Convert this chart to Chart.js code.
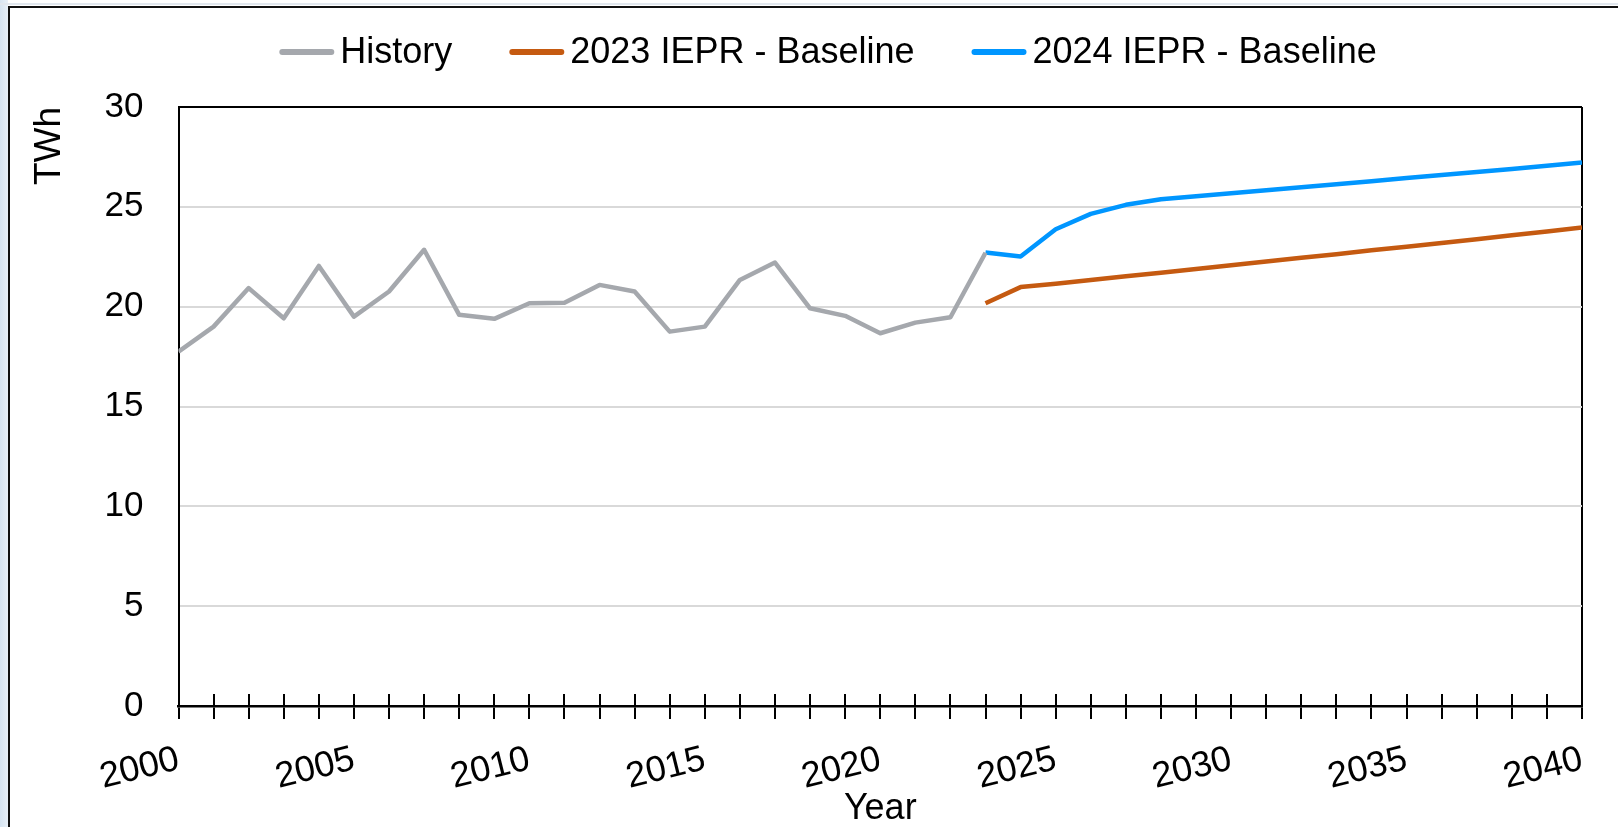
<!DOCTYPE html>
<html><head><meta charset="utf-8">
<script src="https://cdn.jsdelivr.net/npm/chart.js@4/dist/chart.umd.min.js"></script>
<style>
html,body{margin:0;padding:0;background:#fff;}
#wrap{position:relative;width:1618px;height:827px;overflow:hidden;background:#fff;}
#strip{position:absolute;left:0;top:0;width:8px;height:827px;background:linear-gradient(to right,#d6e4f1,#e8f0f8);}
#topline{position:absolute;left:0;top:3px;width:1618px;height:2px;background:#e1e7ee;}
#frame{position:absolute;left:8px;top:6px;width:1700px;height:1000px;border-left:2px solid #111;border-top:2px solid #111;box-sizing:border-box;background:#fff;}
canvas{position:absolute;left:0;top:0;}
</style></head><body>
<div id="wrap"><div id="strip"></div><div id="topline"></div><div id="frame"></div><canvas id="c" width="1618" height="827"></canvas></div>
<script>
// ---- data ----
const historyYears = [2000,2001,2002,2003,2004,2005,2006,2007,2008,2009,2010,2011,2012,2013,2014,2015,2016,2017,2018,2019,2020,2021,2022,2023];
const historyValues = [17.75,19.0,20.93,19.42,22.04,19.5,20.76,22.85,19.59,19.39,20.17,20.2,21.09,20.76,18.75,19.0,21.34,22.21,19.92,19.54,18.67,19.2,19.47,22.7];
const forecastYears = [2023,2024,2025,2026,2027,2028,2029,2030,2031,2032,2033,2034,2035,2036,2037,2038,2039,2040];
const iepr2023Values = [20.17,20.98,21.15,21.33,21.52,21.7,21.89,22.07,22.26,22.45,22.63,22.82,23.0,23.19,23.38,23.58,23.77,23.96];
const iepr2024Values = [22.71,22.51,23.88,24.65,25.1,25.38,25.53,25.68,25.83,25.98,26.13,26.28,26.44,26.6,26.75,26.9,27.06,27.22];
const seriesLabels = ['History','2023 IEPR - Baseline','2024 IEPR - Baseline'];
const yTicks = [0,5,10,15,20,25,30];
const xLabelStep = 5;

const FONT = '"Liberation Sans", Arial, Helvetica, sans-serif';
const toPts = (xs, ys) => xs.map((x,i)=>({x, y: ys[i]}));

const legendPlugin = {
  id: 'customLegend',
  afterDraw(chart){
    const ctx = chart.ctx;
    ctx.save();
    ctx.font = '36px ' + FONT;
    const items = chart.data.datasets.map(d=>({label:d.label, color:d.borderColor, w:ctx.measureText(d.label).width}));
    const lineLen = 55, gapLine = 6, gapItem = 57, centerX = 828, lineY = 52, textY = 63;
    const total = items.reduce((s,it)=>s+lineLen+gapLine+it.w,0) + gapItem*(items.length-1);
    let x = centerX - total/2;
    items.forEach(it=>{
      ctx.strokeStyle = it.color; ctx.lineWidth = 6; ctx.lineCap = 'round';
      ctx.beginPath(); ctx.moveTo(x+3, lineY); ctx.lineTo(x+lineLen-3, lineY); ctx.stroke();
      ctx.fillStyle = '#000'; ctx.textAlign='left'; ctx.textBaseline='alphabetic';
      ctx.fillText(it.label, x+lineLen+gapLine, textY);
      x += lineLen + gapLine + it.w + gapItem;
    });
    ctx.restore();
  }
};

const innerTicks = {
  id: 'innerTicks',
  afterDatasetsDraw(chart){
    const xs = chart.scales.x, ctx = chart.ctx;
    ctx.save(); ctx.strokeStyle='#000'; ctx.lineWidth=2;
    xs.ticks.forEach(t=>{
      const px = Math.round(xs.getPixelForValue(t.value));
      ctx.beginPath(); ctx.moveTo(px, xs.top-12); ctx.lineTo(px, xs.top); ctx.stroke();
    });
    ctx.restore();
  }
};

new Chart(document.getElementById('c'), {
  type: 'line',
  data: {
    datasets: [
      {label: seriesLabels[0], data: toPts(historyYears, historyValues), borderColor:'#A5A8AD', backgroundColor:'#A5A8AD'},
      {label: seriesLabels[1], data: toPts(forecastYears, iepr2023Values), borderColor:'#C55A11', backgroundColor:'#C55A11'},
      {label: seriesLabels[2], data: toPts(forecastYears, iepr2024Values), borderColor:'#0096FF', backgroundColor:'#0096FF'}
    ]
  },
  options: {
    responsive:false, animation:false, devicePixelRatio:1,
    layout:{padding:{left:0,right:36,top:107,bottom:0}},
    elements:{line:{borderWidth:4.5, tension:0, borderJoinStyle:'round', borderCapStyle:'butt'}, point:{radius:0}},
    plugins:{legend:{display:false}, tooltip:{enabled:false}},
    scales:{
      x:{
        type:'linear', min:2000, max:2040,
        ticks:{stepSize:1, autoSkip:false, minRotation:14, maxRotation:14, padding:19, color:'#000',
          font:{family:FONT,size:36},
          callback:(v)=> v % xLabelStep === 0 ? String(v) : ''},
        grid:{drawOnChartArea:true, drawTicks:true, tickLength:13, tickWidth:2, tickColor:'#000',
          color:(c)=> c.tick && c.tick.value===2040 ? '#000' : 'rgba(0,0,0,0)', lineWidth:2},
        border:{display:true, color:'#000', width:2.5},
        title:{display:true, text:'Year', color:'#000', font:{family:FONT,size:36}, padding:{top:0,bottom:-4}},
        afterFit:(s)=>{ s.height = 121; s.paddingLeft=0; s.paddingRight=0; }
      },
      y:{
        min:0, max:30,
        afterBuildTicks:(s)=>{ s.ticks = yTicks.map(v=>({value:v})); },
        ticks:{padding:35, color:'#000', font:{family:FONT,size:35}},
        grid:{drawTicks:false, lineWidth:2,
          color:(c)=> c.tick.value===30 ? '#000' : (c.tick.value===0 ? 'rgba(0,0,0,0)' : '#D9D9D9')},
        border:{display:true, color:'#000', width:2},
        title:{display:true, text:'TWh', align:'end', color:'#000', font:{family:FONT,size:37}, padding:{top:28,bottom:0}},
        afterFit:(s)=>{ s.width = 178.5; s.paddingTop=0; s.paddingBottom=0; }
      }
    }
  },
  plugins:[legendPlugin, innerTicks]
});
</script>
</body></html>
